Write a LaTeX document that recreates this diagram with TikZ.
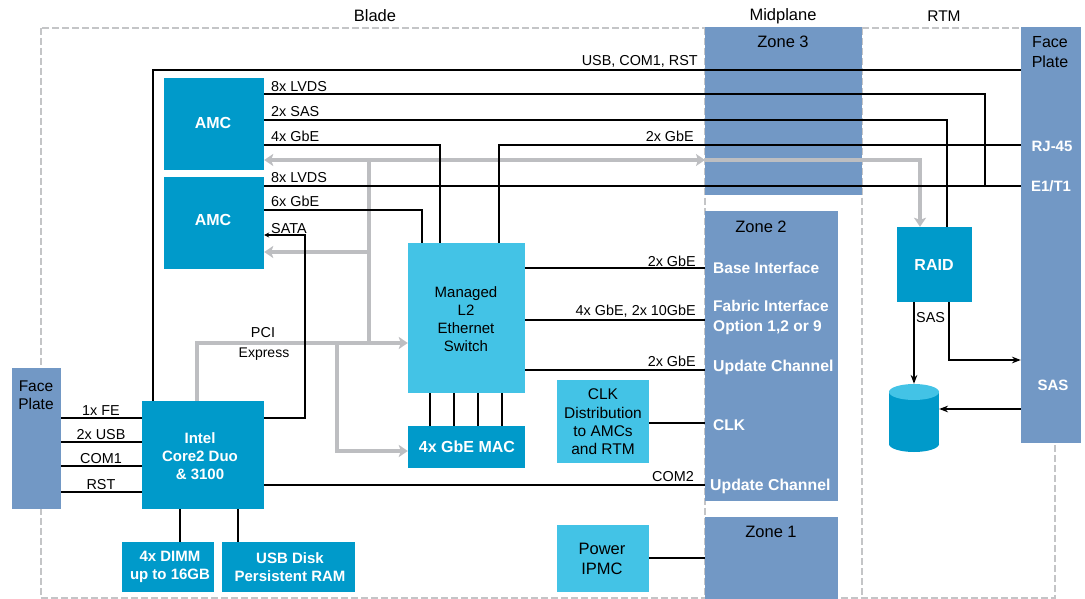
\documentclass[tikz,border=0pt]{standalone}
\usepackage{fontspec}
\setmainfont{Liberation Sans}
\usepackage{tikz}
\usetikzlibrary{positioning,arrows.meta,calc}
\definecolor{darkblue}{HTML}{009ACA}
\definecolor{lightblue}{HTML}{43C3E6}
\definecolor{planeblue}{HTML}{7298C5}
\definecolor{framegrey}{HTML}{C4C5C7}
\definecolor{busgrey}{HTML}{BDBEC1}
\tikzset{
	darkbox/.style={fill=darkblue,inner sep=0pt},
	darklbl/.style={inner sep=0pt,align=center,text=white,font=\fontsize{15}{18}\selectfont\bfseries},
	biglbl/.style={darklbl,font=\fontsize{16}{18}\selectfont\bfseries},
	lightbox/.style={fill=lightblue,inner sep=0pt},
	lightlbl/.style={inner sep=0pt,align=center,font=\fontsize{15.5}{18.3}\selectfont},
	planebox/.style={fill=planeblue,inner sep=0pt},
	planelbl/.style={inner sep=0pt,text=white,align=left,font=\fontsize{15.5}{20}\selectfont\bfseries},
	zonelbl/.style={inner sep=0pt,align=center,font=\fontsize{16.5}{20}\selectfont},
	lbl/.style={inner sep=0pt,font=\fontsize{14.4}{16}\selectfont},
	framedash/.style={framegrey,line width=1.3pt,dash pattern=on 7pt off 3pt},
	wire/.style={line width=1.3pt},
	bus/.style={line width=3.8pt,busgrey,-{Stealth[length=9pt,width=12pt,inset=2pt]}},
	busline/.style={line width=3.8pt,busgrey}
}
\begin{document}
\begin{tikzpicture}[>=Stealth,x=1pt,y=-1pt]
	\useasboundingbox (0,0) rectangle (1085,599);

	\coordinate (tl) at (41,28);
	\coordinate (br) at (1055,598);
	\draw[framedash] (tl) rectangle (br);
	\draw[framedash] (tl -| 705,0) -- (br -| 705,0);
	\draw[framedash] (tl -| 862,0) -- (br -| 862,0);

	\node[planebox,minimum width=157pt,minimum height=168pt] (zthree) at (783.5,111) {};
	\node[planebox,minimum width=133pt,minimum height=290pt] (ztwo) at (771.5,356) {};
	\node[planebox,minimum width=133pt,minimum height=82pt] (zone) at (771.5,558) {};
	\node[planebox,minimum width=60pt,minimum height=416pt] (rface) at (1051,235) {};
	\node[planebox,minimum width=49pt,minimum height=141pt] (lface) at (36.5,438.5) {};

	\node[darkbox,minimum width=100pt,minimum height=92pt] (amca) at (214,124) {};
	\node[darkbox,minimum width=100pt,minimum height=92pt] (amcb) at (214,223) {};
	\node[darkbox,minimum width=122pt,minimum height=108pt] (cpu) at (203,455) {};
	\node[lightbox,minimum width=117pt,minimum height=150pt] (sw) at (466.5,318) {};
	\node[darkbox,minimum width=117pt,minimum height=42pt] (mac) at (466.5,447) {};
	\node[darkbox,minimum width=92pt,minimum height=50pt] (dimm) at (168,567) {};
	\node[darkbox,minimum width=133pt,minimum height=50pt] (usbdisk) at (288.5,567) {};
	\node[lightbox,minimum width=92pt,minimum height=83pt] (clk) at (603,421.5) {};
	\node[lightbox,minimum width=92pt,minimum height=67pt] (ipmc) at (603,558.5) {};
	\node[darkbox,minimum width=75pt,minimum height=75pt] (raid) at (934.5,264.5) {};

	\fill[darkblue] (889,392) rectangle (939,444);
	\fill[darkblue] (914,444) ellipse [x radius=25pt,y radius=8pt];
	\fill[lightblue] (914,392) ellipse [x radius=25pt,y radius=8pt];
	\node[inner sep=0pt,minimum width=50pt,minimum height=68pt] (disk) at (914,418) {};

	\node[biglbl] (amcalbl) at (213,123) {AMC};
	\node[biglbl] (amcblbl) at (213,220) {AMC};
	\node[darklbl] (cpulbl) at (200,456) {Intel\\Core2 Duo\\\& 3100};
	\node[biglbl] (maclbl) at (467,447) {4x GbE MAC};
	\node[darklbl] (dimmlbl) at (170,567) {4x DIMM\\up to 16GB};
	\node[darklbl] (usbdisklbl) at (290,567) {USB Disk\\Persistent RAM};
	\node[biglbl] (raidlbl) at (934,265) {RAID};
	\node[lightlbl,font=\fontsize{15}{18}\selectfont] (swlbl) at (466,319) {Managed\\L2\\Ethernet\\Switch};
	\node[lightlbl] (clklbl) at (603,422) {CLK\\Distribution\\to AMCs\\and RTM};
	\node[lightlbl,font=\fontsize{16.5}{20}\selectfont] (ipmclbl) at (602,559) {Power\\IPMC};

	\coordinate (pcibend) at (197,343);
	\coordinate (pcijoin) at (369,343);
	\coordinate (macbend) at (337,451);
	\coordinate (busjoin) at (369,160);
	\coordinate (midbus) at (705,160);
	\coordinate (raidbend) at (920,160);
	\coordinate (lvdsjoin) at (985,186);
	\coordinate (sasbend) at (949,360);

	\draw[busline] (cpu.north -| pcibend) -- (pcibend) -- (pcijoin);
	\draw[bus] (pcibend) -- (pcibend -| sw.west);
	\draw[bus] (pcibend -| macbend) -- (macbend) -- (macbend -| mac.west);
	\draw[busline] (pcijoin) -- (busjoin);
	\draw[bus] (busjoin) -- (busjoin -| amca.east);
	\draw[bus] (busjoin) -- (midbus);
	\draw[bus] (midbus) -- (raidbend) -- (raidbend |- raid.north);
	\draw[bus] (pcijoin |- 0,252) -- (amcb.east |- 0,252);

	\draw[wire] (lface.east |- 0,418) -- (cpu.west |- 0,418);
	\draw[wire] (lface.east |- 0,442) -- (cpu.west |- 0,442);
	\draw[wire] (lface.east |- 0,466) -- (cpu.west |- 0,466);
	\draw[wire] (lface.east |- 0,492) -- (cpu.west |- 0,492);
	\draw[wire] (cpu.north -| 153,0) |- (rface.west |- 0,70);
	\draw[wire] (amca.east |- 0,94) -| (lvdsjoin);
	\draw[wire] (amca.east |- 0,120) -| (raid.north -| 947,0);
	\draw[wire] (amca.east |- 0,145) -| (sw.north -| 440,0);
	\draw[wire] (sw.north -| 499,0) |- (rface.west |- 0,145);
	\draw[wire] (amcb.east |- 0,186) -- (lvdsjoin) -- (rface.west |- lvdsjoin);
	\draw[wire] (amcb.east |- 0,210) -| (sw.north -| 422,0);
	\draw[wire,-{Stealth[length=5pt,width=5pt]}] (cpu.east |- 0,418) -| (305,235) -- (amcb.east |- 0,235);
	\draw[wire] (sw.south -| 430,0) -- (mac.north -| 430,0);
	\draw[wire] (sw.south -| 454,0) -- (mac.north -| 454,0);
	\draw[wire] (sw.south -| 478,0) -- (mac.north -| 478,0);
	\draw[wire] (sw.south -| 502,0) -- (mac.north -| 502,0);
	\draw[wire] (sw.east |- 0,268) -- (ztwo.west |- 0,268);
	\draw[wire] (sw.east |- 0,320) -- (ztwo.west |- 0,320);
	\draw[wire] (sw.east |- 0,370) -- (ztwo.west |- 0,370);
	\draw[wire] (clk.east |- 0,423) -- (ztwo.west |- 0,423);
	\draw[wire] (cpu.east |- 0,485) -- (ztwo.west |- 0,485);
	\draw[wire] (ipmc.east |- 0,558) -- (zone.west |- 0,558);
	\draw[wire] (cpu.south -| 180,0) -- (dimm.north -| 180,0);
	\draw[wire] (cpu.south -| 238,0) -- (usbdisk.north -| 238,0);
	\draw[wire,->] (raid.south -| disk.north) -- (disk.north);
	\draw[wire,->] (raid.south -| sasbend) -- (sasbend) -- (rface.west |- sasbend);
	\draw[wire,->] (rface.west |- 0,409) -- (disk.east |- 0,409);

	\node[zonelbl] (blade) at (375,16) {Blade};
	\node[zonelbl] (midplane) at (783,16) {Midplane};
	\node[zonelbl,font=\fontsize{15.5}{18}\selectfont] (rtm) at (944,16) {RTM};
	\node[zonelbl] (zthreelbl) at (783,42) {Zone 3};
	\node[zonelbl] (ztwolbl) at (761,227) {Zone 2};
	\node[zonelbl] (zonelbl) at (771,532) {Zone 1};
	\node[zonelbl,font=\fontsize{16}{20}\selectfont] (rfacelbl) at (1050,52) {Face\\Plate};
	\node[zonelbl,font=\fontsize{15.5}{18.5}\selectfont] (lfacelbl) at (36,395) {Face\\Plate};

	\node[planelbl,anchor=west] (base) at (713,268) {Base Interface};
	\node[planelbl,anchor=west] (fabric) at (713,317) {Fabric Interface\\Option 1,2 or 9};
	\node[planelbl,anchor=west,font=\fontsize{15.8}{20}\selectfont\bfseries] (updatea) at (713,367) {Update Channel};
	\node[planelbl,anchor=west] (clkz) at (713,425) {CLK};
	\node[planelbl,anchor=west,font=\fontsize{15.8}{20}\selectfont\bfseries] (updateb) at (710,486) {Update Channel};
	\node[planelbl,font=\fontsize{15}{20}\selectfont\bfseries] (rj) at (1052,146) {RJ-45};
	\node[planelbl,font=\fontsize{15}{20}\selectfont\bfseries] (eone) at (1051,186) {E1/T1};
	\node[planelbl,font=\fontsize{15}{20}\selectfont\bfseries] (sasr) at (1053,385) {SAS};

	\node[lbl,anchor=west] (lvdsa) at (271,87) {8x LVDS};
	\node[lbl,anchor=west] (sas) at (271,112) {2x SAS};
	\node[lbl,anchor=west] (gbea) at (271,136) {4x GbE};
	\node[lbl,anchor=west] (lvdsb) at (271,178) {8x LVDS};
	\node[lbl,anchor=west] (gbeb) at (271,201) {6x GbE};
	\node[lbl,anchor=west] (sata) at (271,229) {SATA};
	\node[lbl] (pci) at (263,333) {PCI};
	\node[lbl,font=\fontsize{14}{16}\selectfont] (express) at (264,354) {Express};
	\node[lbl] (fe) at (101,411) {1x FE};
	\node[lbl] (usb) at (101,435) {2x USB};
	\node[lbl] (com) at (101,459) {COM1};
	\node[lbl] (rst) at (101,485) {RST};
	\node[lbl,anchor=east] (usbrst) at (698,61) {USB, COM1, RST};
	\node[lbl,anchor=east] (gbec) at (694,136) {2x GbE};
	\node[lbl,anchor=east] (gbed) at (696,261) {2x GbE};
	\node[lbl,anchor=east] (gbee) at (696,311) {4x GbE, 2x 10GbE};
	\node[lbl,anchor=east] (gbef) at (696,361) {2x GbE};
	\node[lbl,anchor=east] (comtwo) at (694,477) {COM2};
	\node[lbl,anchor=west] (sasd) at (916,318) {SAS};
\end{tikzpicture}
\end{document}
